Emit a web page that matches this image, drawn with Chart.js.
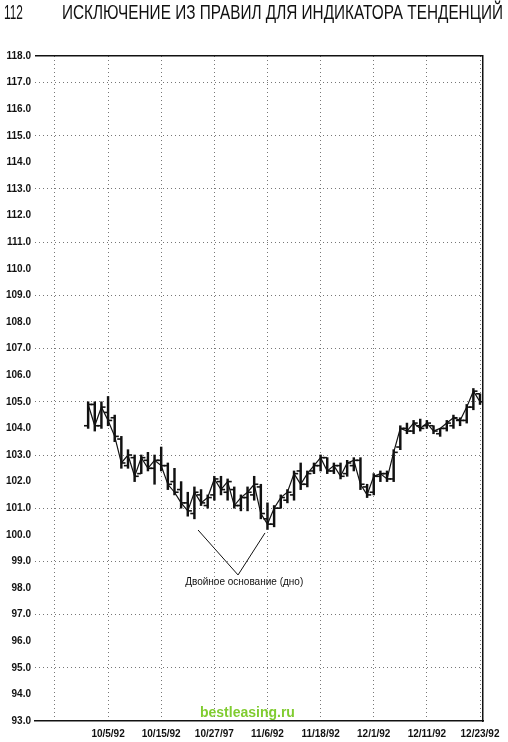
<!DOCTYPE html>
<html>
<head>
<meta charset="utf-8">
<script src="https://cdn.jsdelivr.net/npm/chart.js@4.4.1/dist/chart.umd.min.js"></script>
<style>
  body { margin: 0; background: #fff; }
  #wrap { position: relative; width: 508px; height: 742px; overflow: hidden; background: #fff; }
  .head { position: absolute; top: 1px; font: 20px 'Liberation Sans', sans-serif; color: #111; white-space: nowrap; transform-origin: left top; }
  #page { left: 4px; }
  #title { left: 62px; }
  #mark { position: absolute; left: 200px; top: 704px; font: bold 14px 'Liberation Sans', sans-serif; color: #80cc30; }
</style>
</head>
<body>
<div id="wrap">
  <canvas id="chart" width="508" height="742"></canvas>
  <div id="page" class="head">112</div>
  <div id="title" class="head">ИСКЛЮЧЕНИЕ ИЗ ПРАВИЛ ДЛЯ ИНДИКАТОРА ТЕНДЕНЦИЙ</div>
  <div id="mark">bestleasing.ru</div>
</div>
<script>
// date labels under the chart, one every 8 trading days (day 0 = 10/5/92)
const tickLabels = ['10/5/92', '10/15/92', '10/27/97', '11/6/92', '11/18/92', '12/1/92', '12/11/92', '12/23/92'];
const tickDays = [0, 8, 16, 24, 32, 40, 48, 56];
const firstDay = -3;

// daily bars
const opens = [104.1, 104.9, 104.1, 104.6, 104.4, 103.6, 102.6, 102.9, 102.3, 102.8,
  102.5, 102.8, 102.6, 102.0, 101.7, 101.2, 100.8, 101.5, 101.1, 101.5,
  102.0, 101.6, 101.7, 101.1, 101.4, 101.5, 101.8, 100.6, 100.4, 101.0,
  101.3, 101.5, 102.4, 101.9, 102.4, 102.6, 102.9, 102.4, 102.6, 102.3,
  102.6, 102.8, 101.8, 101.6, 102.2, 102.3, 102.1, 103.3, 104.0, 103.9,
  104.1, 104.1, 104.1, 103.8, 104.0, 104.1, 104.3, 104.3, 104.8, 105.3];
const highs = [105.0, 105.0, 105.0, 105.2, 104.5, 103.7, 103.2, 103.0, 103.0, 103.1,
  103.0, 103.3, 102.7, 102.5, 102.0, 101.6, 101.8, 101.7, 101.5, 102.2,
  102.2, 102.1, 101.8, 101.5, 101.8, 102.2, 101.9, 101.2, 101.1, 101.5,
  101.7, 102.4, 102.7, 102.4, 102.7, 103.0, 102.9, 102.7, 102.7, 102.8,
  102.9, 102.9, 101.9, 102.3, 102.4, 102.4, 103.2, 104.1, 104.2, 104.3,
  104.35, 104.3, 104.1, 104.0, 104.3, 104.5, 104.4, 104.9, 105.5, 105.3];
const lows = [104.0, 103.9, 104.0, 104.1, 103.5, 102.5, 102.5, 102.0, 102.3, 102.4,
  101.9, 102.4, 101.7, 101.5, 101.0, 100.7, 100.6, 101.1, 101.0, 101.3,
  101.5, 101.3, 101.0, 100.9, 100.9, 101.3, 100.6, 100.2, 100.3, 101.0,
  101.2, 101.3, 101.7, 101.8, 102.3, 102.4, 102.3, 102.3, 102.1, 102.2,
  102.4, 101.7, 101.4, 101.5, 102.0, 102.0, 102.0, 103.2, 103.8, 103.8,
  103.9, 104.0, 103.8, 103.7, 103.9, 104.0, 104.1, 104.2, 104.7, 104.9];
const closes = [104.9, 104.1, 104.8, 104.3, 103.7, 102.7, 103.0, 102.2, 102.9, 102.5,
  102.8, 102.6, 101.9, 101.6, 101.2, 100.9, 101.6, 101.2, 101.4, 102.1,
  101.7, 102.0, 101.1, 101.4, 101.6, 101.9, 100.8, 100.4, 101.0, 101.4,
  101.6, 102.3, 101.9, 102.3, 102.6, 102.9, 102.4, 102.6, 102.2, 102.7,
  102.8, 101.9, 101.5, 102.2, 102.3, 102.1, 103.1, 104.0, 103.9, 104.2,
  104.0, 104.2, 103.9, 104.0, 104.2, 104.4, 104.3, 104.8, 105.4, 105.0];

const yMin = 93;
const yMax = 118;

// "double bottom" note and its two pointer lines
const noteText = 'Двойное основание (дно)';
const noteAt = { x: 20.5, y: 98.2 };
const notePointer = [{ x: 13.55, y: 100.18 }, { x: 19.57, y: 98.49 }, { x: 23.63, y: 100.07 }];

// squeeze the running header to the widths it has on the page
function fitWidth(id, w) {
  const el = document.getElementById(id);
  el.style.transform = 'scaleX(' + (w / el.offsetWidth) + ')';
}
fitWidth('page', 19);
fitWidth('title', 441);

const days = closes.map((_, i) => firstDay + i);
const tickOff = 0.32;
const ink = '#111';
const axisFont = { family: "'Liberation Sans', sans-serif", size: 10, weight: 'bold' };

const notePlugin = {
  id: 'note',
  afterDatasetsDraw(chart) {
    const { ctx, scales: { x, y } } = chart;
    ctx.save();
    ctx.font = "10px 'Liberation Sans', sans-serif";
    ctx.fillStyle = ink;
    ctx.textAlign = 'center';
    ctx.textBaseline = 'middle';
    ctx.fillText(noteText, x.getPixelForValue(noteAt.x), y.getPixelForValue(noteAt.y));
    ctx.restore();
  }
};

new Chart(document.getElementById('chart'), {
  type: 'bar',
  data: {
    datasets: [
      {
        label: 'high-low',
        data: days.map((d, i) => ({ x: d, y: [lows[i], highs[i]] })),
        backgroundColor: ink,
        borderWidth: 0,
        barThickness: 1.8,
        order: 2
      },
      {
        type: 'line',
        label: 'open',
        data: days.map((d, i) => ({ x: d - tickOff, y: opens[i] })),
        showLine: false,
        pointStyle: 'line',
        pointRadius: 2,
        pointBorderWidth: 1.6,
        borderColor: ink,
        order: 1
      },
      {
        type: 'line',
        label: 'close',
        data: days.map((d, i) => ({ x: d + tickOff, y: closes[i] })),
        showLine: false,
        pointStyle: 'line',
        pointRadius: 2,
        pointBorderWidth: 1.6,
        borderColor: ink,
        order: 1
      },
      {
        type: 'line',
        label: 'close path',
        data: days.map((d, i) => ({ x: d, y: closes[i] })),
        borderColor: ink,
        borderWidth: 1.2,
        pointRadius: 0,
        tension: 0,
        order: 3
      },
      {
        type: 'line',
        label: 'note pointer',
        data: notePointer,
        borderColor: ink,
        borderWidth: 1,
        pointRadius: 0,
        tension: 0,
        order: 0
      }
    ]
  },
  options: {
    responsive: false,
    animation: false,
    devicePixelRatio: 1,
    layout: { padding: { top: 56, right: 25, left: 0, bottom: 0 } },
    plugins: {
      legend: { display: false },
      tooltip: { enabled: false }
    },
    scales: {
      x: {
        type: 'linear',
        offset: false,
        min: -11,
        max: 56.45,
        afterBuildTicks: s => { s.ticks = [-8].concat(tickDays).map(v => ({ value: v })); },
        afterFit: s => { s.height = 21; },
        ticks: {
          autoSkip: false,
          maxRotation: 0,
          padding: 7,
          color: ink,
          font: axisFont,
          callback: v => {
            const k = tickDays.indexOf(v);
            return k < 0 ? '' : tickLabels[k];
          }
        },
        grid: { offset: false, color: '#777', lineWidth: 1, drawTicks: false },
        border: { display: true, color: ink, width: 1.5, dash: [1, 3] }
      },
      y: {
        min: yMin,
        max: yMax,
        afterFit: s => { s.width = 35; },
        ticks: {
          stepSize: 1,
          padding: 4,
          color: ink,
          font: axisFont,
          callback: v => v.toFixed(1)
        },
        grid: {
          drawTicks: false,
          color: c => {
            const v = c.tick ? c.tick.value : 0;
            if (v === yMax) return ink;
            if (v === yMin) return 'rgba(0,0,0,0)';
            return v % 2 === 1 ? '#777' : 'rgba(0,0,0,0)';
          },
          lineWidth: c => (c.tick && c.tick.value === yMax ? 1.5 : 1)
        },
        border: {
          display: false,
          dash: c => (c.tick && c.tick.value === yMax ? [] : [1, 3])
        }
      },
      yR: {
        position: 'right',
        min: yMin,
        max: yMax,
        afterFit: s => { s.width = 0; },
        ticks: { display: false },
        grid: { display: false, drawTicks: false },
        border: { display: true, color: ink, width: 1.5 }
      }
    }
  },
  plugins: [notePlugin]
});
</script>
</body>
</html>
